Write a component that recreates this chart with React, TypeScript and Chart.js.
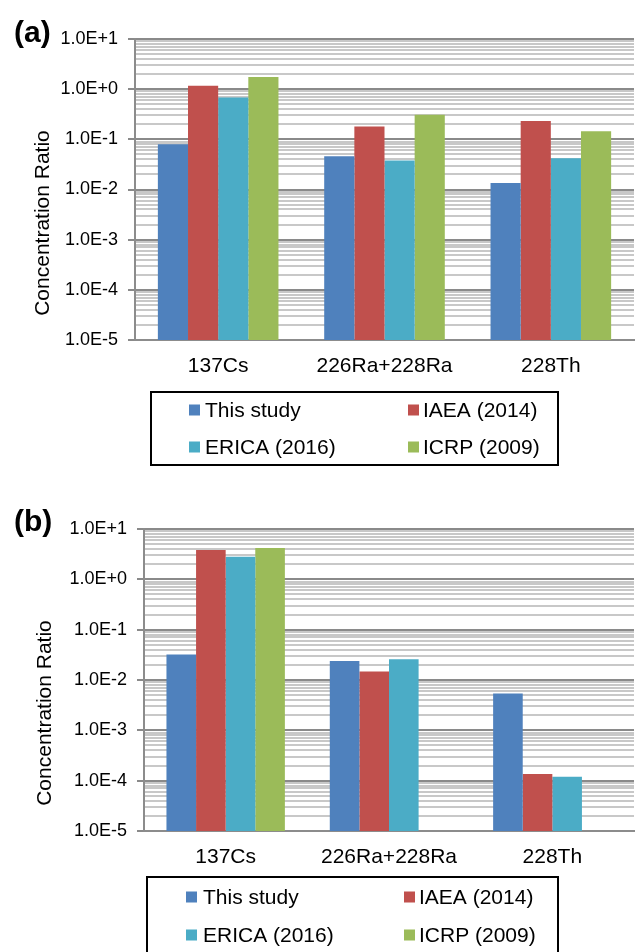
import React, { useEffect, useRef } from 'react';
import { Chart, registerables } from 'chart.js';

Chart.register(...registerables);

const categories = ['137Cs', '226Ra+228Ra', '228Th'];
const seriesNames = ['This study', 'IAEA (2014)', 'ERICA (2016)', 'ICRP (2009)'];
const seriesColors = ['#4F81BD', '#C0504D', '#4BACC6', '#9BBB59'];

// Panel (a)
const thisStudyA = [0.08, 0.046, 0.0134];
const iaeaA = [1.17, 0.18, 0.233];
const ericaA = [0.68, 0.038, 0.042];
const icrpA = [1.74, 0.31, 0.145];

// Panel (b)
const thisStudyB = [0.032, 0.0238, 0.0054];
const iaeaB = [3.83, 0.0148, 0.000135];
const ericaB = [2.8, 0.0257, 0.000119];
const icrpB: (number | null)[] = [4.19, null, null];

const tickExponents = [-5, -4, -3, -2, -1, 0, 1];
const tickLabels = ['1.0E-5', '1.0E-4', '1.0E-3', '1.0E-2', '1.0E-1', '1.0E+0', '1.0E+1'];
const minorMultipliers = [1, 2, 3, 4, 5, 6, 7, 8, 9];

const FONT = '"Liberation Sans", Arial, Helvetica, sans-serif';
const W = 638;
const H = 476;

const isDecade = (v: number) => Math.abs(Math.log10(v) - Math.round(Math.log10(v))) < 1e-6;
const decadeLabel = (v: number) => {
  if (!isDecade(v)) return '';
  const i = tickExponents.indexOf(Math.round(Math.log10(v)));
  return i >= 0 ? tickLabels[i] : '';
};

type Panel = {
  label: string;
  labelY: number;
  values: (number | null)[][];
  area: { left: number; top: number; right: number; bottom: number };
  titleX: number;
  titleY: number;
  legend: { box: [number, number, number, number]; rows: [number, number]; sq: [number, number]; txt: [number, number] };
};

const panels: Panel[] = [
  {
    label: '(a)',
    labelY: 42,
    values: [thisStudyA, iaeaA, ericaA, icrpA],
    area: { left: 135, top: 39, right: 634, bottom: 340 },
    titleX: 43,
    titleY: 223,
    legend: { box: [151, 392, 558, 465], rows: [410, 447], sq: [189, 408], txt: [205, 423] },
  },
  {
    label: '(b)',
    labelY: 55,
    values: [thisStudyB, iaeaB, ericaB, icrpB],
    area: { left: 144, top: 53, right: 634, bottom: 355 },
    titleX: 45,
    titleY: 237,
    legend: { box: [147, 401, 558, 490], rows: [421, 459], sq: [186, 404], txt: [203, 419] },
  },
];

function PanelChart({ panel }: { panel: Panel }) {
  const ref = useRef<HTMLCanvasElement | null>(null);
  useEffect(() => {
    if (!ref.current) return;
    const p = panel;
    const overlay = {
      id: 'overlay',
      afterDraw(chart: any) {
        const ctx = chart.ctx as CanvasRenderingContext2D;
        ctx.save();
        // panel label
        ctx.fillStyle = '#000';
        ctx.font = `bold 30px ${FONT}`;
        ctx.textAlign = 'left';
        ctx.textBaseline = 'alphabetic';
        ctx.fillText(p.label, 14, p.labelY);
        // y title
        ctx.save();
        ctx.translate(p.titleX, p.titleY);
        ctx.rotate(-Math.PI / 2);
        ctx.font = `21px ${FONT}`;
        ctx.textAlign = 'center';
        ctx.textBaseline = 'middle';
        ctx.fillText('Concentration Ratio', 0, 0);
        ctx.restore();
        // legend
        const [x0, y0, x1, y1] = p.legend.box;
        ctx.strokeStyle = '#000';
        ctx.lineWidth = 2;
        ctx.strokeRect(x0, y0, x1 - x0, y1 - y0);
        ctx.font = `21px ${FONT}`;
        ctx.textAlign = 'left';
        ctx.textBaseline = 'middle';
        chart.data.datasets.forEach((ds: any, i: number) => {
          const row = Math.floor(i / 2);
          const col = i % 2;
          const ry = p.legend.rows[row];
          ctx.fillStyle = ds.backgroundColor;
          ctx.fillRect(p.legend.sq[col], ry - 5.5, 11, 11);
          ctx.fillStyle = '#000';
          ctx.fillText(ds.label, p.legend.txt[col], ry + 1);
        });
        ctx.restore();
      },
    };
    const chart = new Chart(ref.current, {
      type: 'bar',
      data: {
        labels: categories,
        datasets: seriesNames.map((name, i) => ({
          label: name,
          data: p.values[i],
          backgroundColor: seriesColors[i],
          borderWidth: 0,
          categoryPercentage: 0.725,
          barPercentage: 1,
        })),
      },
      options: {
        responsive: false,
        animation: false,
        devicePixelRatio: 1,
        layout: { padding: { left: 0, top: p.area.top, right: W - p.area.right, bottom: 0 } },
        plugins: { legend: { display: false }, tooltip: { enabled: false }, title: { display: false } },
        scales: {
          x: {
            type: 'category',
            grid: { display: false, drawTicks: false },
            border: { display: true, color: '#8c8c8c', width: 2 },
            ticks: { color: '#000', font: { family: FONT, size: 21 }, padding: 14, maxRotation: 0, autoSkip: false },
            afterFit: (s: any) => {
              s.height = H - p.area.bottom;
            },
          },
          y: {
            type: 'logarithmic',
            min: 1e-5,
            max: 10,
            afterBuildTicks: (s: any) => {
              const t: { value: number }[] = [];
              tickExponents.forEach((e, idx) => {
                if (idx === tickExponents.length - 1) {
                  t.push({ value: Math.pow(10, e) });
                } else {
                  minorMultipliers.forEach((m) => t.push({ value: m * Math.pow(10, e) }));
                }
              });
              s.ticks = t;
            },
            afterFit: (s: any) => {
              s.width = p.area.left;
            },
            grid: {
              color: (c: any) => (c.tick && isDecade(c.tick.value) ? '#8a8a8a' : '#c8c8c8'),
              tickColor: (c: any) => (c.tick && isDecade(c.tick.value) ? '#8a8a8a' : 'rgba(0,0,0,0)'),
              lineWidth: 2,
              tickLength: 7,
              drawTicks: true,
            },
            border: { display: true, color: '#8c8c8c', width: 2 },
            ticks: {
              autoSkip: false,
              callback: (v: any) => decadeLabel(Number(v)),
              padding: 10,
              color: '#000',
              font: { family: FONT, size: 18 },
            },
          },
        },
      },
      plugins: [overlay],
    } as any);
    return () => chart.destroy();
  }, [panel]);
  return <canvas ref={ref} width={W} height={H} style={{ display: 'block', width: W, height: H }} />;
}

export default function App() {
  return (
    <div style={{ position: 'absolute', left: 0, top: 0, width: W, height: 952, background: '#fff', overflow: 'hidden' }}>
      <PanelChart panel={panels[0]} />
      <PanelChart panel={panels[1]} />
    </div>
  );
}
